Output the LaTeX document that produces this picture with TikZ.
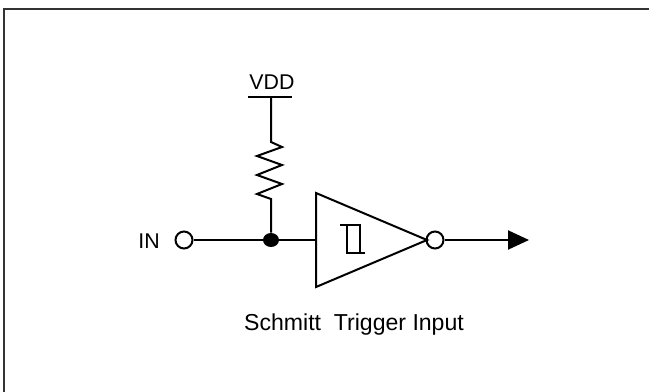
\documentclass[tikz,border=0pt]{standalone}
\usepackage{fontspec}
\setmainfont{Liberation Sans}
\usetikzlibrary{arrows.meta,shapes.geometric}
\begin{document}
\begin{tikzpicture}[x=0.75pt,y=-0.75pt,
  wire/.style={line width=1.5pt,line join=miter},
  lbl/.style={inner sep=0pt,font=\fontsize{16}{19}\selectfont},
  caplbl/.style={inner sep=0pt,font=\fontsize{17.3}{20}\selectfont},
  opencirc/.style={circle,draw,line width=1.5pt,fill=white,minimum size=12.75pt,inner sep=0pt},
  dotnode/.style={ellipse,fill=black,minimum width=12pt,minimum height=10.5pt,inner sep=0pt}]
\useasboundingbox (0,0) rectangle (649,392);
% frame
\draw[line width=1.5pt,black!80] (3.5,392) -- (3.5,9) -- (649,9);
% labels
\node[lbl] (vdd) at (272,82) {VDD};
\node[lbl] (in) at (149,241) {IN};
\node[caplbl] (cap) at (354,325) {Schmitt\ \ Trigger Input};
% supply bar
\coordinate (vl) at (248,97);
\coordinate (vr) at (292,97);
\coordinate (vm) at (271,97);
\draw[wire] (vl) -- (vr);
% nodes
\node[opencirc] (inc) at (184,240) {};
\node[dotnode] (j) at (271,240) {};
\coordinate (tin) at (316,240);
\coordinate (tt) at (316,193);
\coordinate (tb) at (316,287);
\coordinate (tap) at (427,240);
\node[opencirc] (bub) at (435,240) {};
\coordinate (out) at (529,240);
% resistor
\draw[wire] (vm) -- (271,142) -- (282,147) -- (257,156) -- (282,165) -- (257,175) -- (282,184) -- (257,194) -- (271,199) -- (j);
% input wire
\draw[wire] (inc) -- (j) -- (tin);
% triangle
\draw[wire] (tt) -- (tb) -- (tap) -- cycle;
% hysteresis symbol
\draw[line width=0.9pt] (340,225) -- (360,225) -- (360,253) -- (365,253);
\draw[line width=0.9pt] (347,225) -- (347,253) -- (360,253);
% output
\draw[wire,-{Triangle[length=15.75pt,width=14.25pt]}] (bub) -- (out);
\end{tikzpicture}
\end{document}
